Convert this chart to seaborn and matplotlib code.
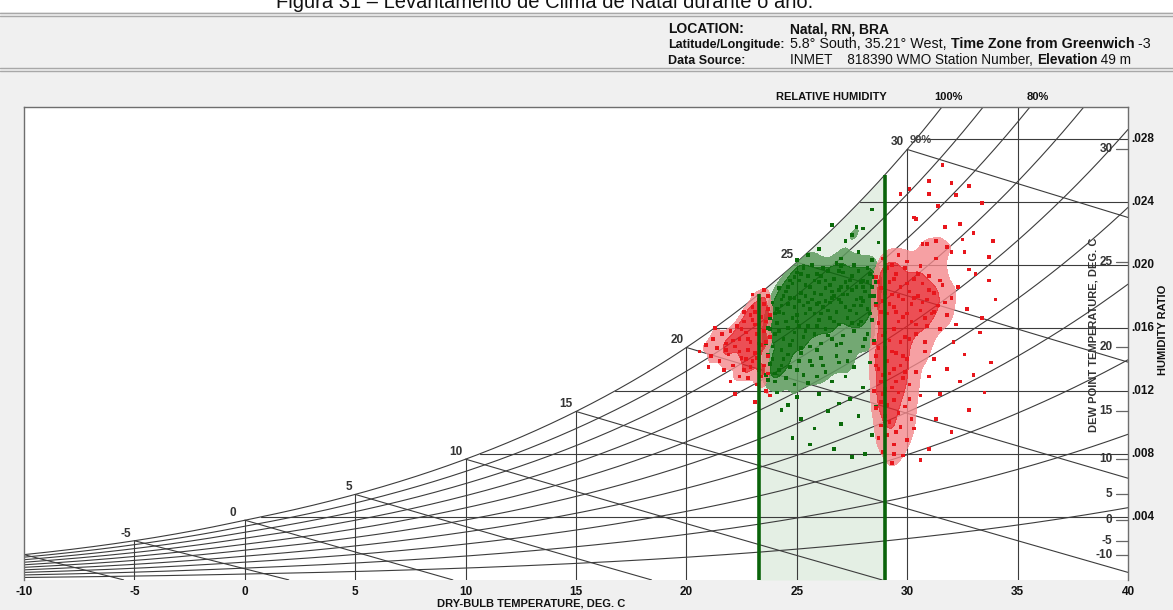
import numpy as np
import pandas as pd
import matplotlib
matplotlib.use("Agg")
import matplotlib.pyplot as plt
import matplotlib.transforms as mtransforms
from matplotlib.colors import ListedColormap
from matplotlib.lines import Line2D
from matplotlib.patches import Rectangle
import seaborn as sns

# ---------------- data ----------------
comfort_limits = [23.3, 29.0]          # dry-bulb limits of the comfort band, deg C
temp_ticks = [-10, -5, 0, 5, 10, 15, 20, 25, 30, 35, 40]
w_ticks = [0.004, 0.008, 0.012, 0.016, 0.020, 0.024, 0.028]
w_tick_labels = [".004", ".008", ".012", ".016", ".020", ".024", ".028"]
dew_ticks = [30, 25, 20, 15, 10, 5, 0, -5, -10]
rh_levels = [0.1, 0.2, 0.3, 0.4, 0.5, 0.6, 0.7, 0.8, 0.9, 1.0]
wb_levels = [-10, -5, 0, 5, 10, 15, 20, 25, 30]
sat_labels = [-5, 0, 5, 10, 15, 20, 25, 30]

# hourly records (dry-bulb deg C, humidity ratio g/kg)
green_points = [
    (24.1, 17.2), (24.3, 17.8), (24.5, 18.3), (24.6, 17.5), (24.8, 18.8), (24.9, 17.9),
    (25.1, 19.0), (25.2, 18.2), (25.3, 17.4), (25.5, 19.3), (25.6, 18.6), (25.7, 17.8),
    (25.9, 19.4), (26.0, 18.9), (26.1, 18.1), (26.2, 17.3), (26.4, 19.6), (26.5, 18.7),
    (26.6, 17.9), (26.7, 19.1), (26.9, 18.4), (27.0, 17.6), (27.1, 19.5), (27.2, 18.9),
    (27.3, 18.1), (27.5, 19.3), (27.6, 17.4), (27.7, 18.6), (27.8, 19.6), (27.9, 17.9),
    (28.0, 19.0), (28.1, 18.3), (28.2, 17.2), (28.3, 19.4), (28.4, 18.6), (24.4, 16.9),
    (25.0, 16.8), (25.4, 18.0), (25.8, 16.9), (26.3, 18.5), (26.8, 17.0), (27.4, 17.1),
    (28.0, 17.7), (28.5, 18.0), (24.7, 19.0), (25.0, 19.5), (26.2, 19.8), (27.0, 19.9),
    (27.6, 20.0), (28.2, 19.8), (25.3, 19.8), (26.8, 20.1), (25.7, 20.0), (24.2, 18.5),
    (23.9, 17.6), (23.8, 16.6), (28.6, 17.5), (28.6, 18.9), (26.0, 17.6), (27.3, 18.6),
    (23.6, 15.0), (23.7, 16.0), (23.9, 14.8), (24.0, 15.6), (24.1, 16.3), (24.3, 14.6),
    (24.4, 15.3), (24.6, 16.0), (24.7, 14.9), (24.9, 15.7), (25.0, 16.4), (25.2, 14.7),
    (25.3, 15.4), (25.5, 16.1), (25.6, 14.8), (25.8, 15.6), (26.0, 16.5), (26.1, 15.0),
    (26.3, 15.9), (26.5, 16.6), (26.6, 15.3), (26.9, 16.2), (27.1, 15.5), (27.3, 16.6),
    (27.6, 15.8), (27.9, 16.4), (28.2, 15.6), (28.4, 16.5), (24.2, 17.0), (25.4, 16.9),
    (26.4, 17.1), (27.7, 16.9), (23.8, 15.9), (24.8, 16.6), (25.9, 14.6), (26.8, 14.9),
    (27.4, 14.5), (28.0, 14.8), (28.5, 15.2), (23.7, 14.3),
    (23.6, 13.0), (23.8, 13.7), (24.0, 12.6), (24.2, 13.3), (24.4, 14.0), (24.5, 12.8),
    (24.7, 13.5), (24.9, 12.4), (25.1, 13.9), (25.3, 13.0), (25.5, 12.5), (25.7, 13.6),
    (25.9, 12.9), (26.1, 14.1), (26.3, 13.2), (26.6, 12.6), (26.9, 13.8), (27.2, 12.9),
    (27.6, 13.5), (28.0, 12.2), (28.3, 13.8), (24.1, 11.9), (25.0, 11.6), (26.0, 11.8),
    (27.4, 11.5),
    (24.3, 10.8), (25.2, 10.2), (25.8, 9.6), (26.4, 10.7), (27.0, 9.9), (27.8, 10.4),
    (28.4, 9.2), (24.8, 9.0), (26.7, 8.3), (27.5, 7.8), (25.6, 8.6), (28.1, 8.0),
    (24.6, 11.1), (26.9, 11.2), (28.6, 11.0),
    (26.0, 21.0), (27.2, 21.5), (28.0, 22.3), (25.5, 20.6), (26.6, 22.5), (27.8, 20.8),
    (28.4, 23.5), (27.0, 20.4), (25.0, 20.3), (28.7, 21.4), (27.7, 22.4), (27.5, 21.9),
    (28.4, 20.3),
    (24.4, 18.0), (24.6, 18.6), (24.9, 19.2), (25.2, 19.4), (25.5, 17.6), (25.8, 18.2),
    (26.1, 19.3), (26.3, 17.7), (26.6, 18.3), (26.9, 19.6), (27.1, 18.1), (27.4, 19.0),
    (27.7, 17.8), (28.0, 18.6), (28.3, 18.0), (28.5, 19.2), (24.0, 16.9), (24.5, 16.4),
    (25.1, 17.7), (25.6, 17.2), (26.1, 16.9), (26.7, 16.4), (27.2, 17.3), (27.8, 16.2),
    (28.3, 16.9), (24.2, 15.8), (24.8, 15.2), (25.4, 15.8), (25.9, 16.1), (26.4, 15.5),
    (27.0, 15.0), (27.5, 16.3), (28.1, 15.3), (23.9, 14.0), (24.3, 13.6), (24.6, 14.3),
    (25.0, 13.3), (25.2, 14.4), (25.6, 13.9), (23.7, 12.7), (24.0, 13.1), (26.2, 13.6),
    (26.8, 14.2), (27.3, 13.9), (24.9, 17.3), (25.9, 17.5), (26.5, 17.6), (27.0, 18.6),
    (27.9, 18.9), (26.3, 19.0), (25.4, 18.7), (24.7, 17.9), (28.2, 18.9), (27.5, 18.4),
    (26.7, 18.0), (25.8, 19.0), (24.3, 17.4), (27.9, 17.4), (25.1, 16.1), (26.9, 17.8),
]

red_points = [
    (20.6, 14.5), (20.9, 14.9), (21.1, 14.2), (21.2, 15.3), (21.4, 14.7), (21.5, 13.9),
    (21.6, 15.6), (21.8, 15.0), (21.9, 14.3), (22.0, 15.8), (22.1, 13.6), (22.2, 14.8),
    (22.3, 16.1), (22.4, 15.3), (22.5, 14.1), (22.6, 13.3), (22.6, 16.4), (22.7, 15.7),
    (22.8, 14.6), (22.8, 12.8), (22.9, 16.8), (22.9, 15.1), (23.0, 13.9), (23.0, 17.3),
    (23.1, 16.2), (23.1, 14.4), (23.2, 12.4), (23.2, 15.6), (23.3, 17.8), (23.3, 13.3),
    (23.4, 16.7), (23.4, 14.9), (23.5, 15.8), (23.5, 13.6), (23.6, 16.4), (23.6, 12.0),
    (23.7, 17.2), (23.7, 14.2), (23.8, 15.4), (23.8, 11.7), (22.4, 12.9), (22.0, 12.6),
    (21.7, 13.3), (21.3, 16.0), (22.6, 17.0), (23.0, 18.1), (23.5, 18.4), (21.0, 13.5),
    (22.2, 11.8), (23.1, 11.3),
    (22.5, 15.9), (22.7, 14.0), (22.9, 13.5), (23.0, 16.5), (23.2, 14.1), (23.3, 16.2),
    (23.4, 12.9), (23.6, 15.1), (23.7, 13.1), (22.8, 15.3), (22.4, 14.5), (23.1, 17.0),
    (23.5, 17.5), (22.1, 15.2), (21.8, 14.6), (23.8, 16.8), (23.7, 18.0), (23.3, 15.0),
    (28.6, 19.2), (28.8, 18.5), (28.9, 17.7), (29.0, 19.6), (29.1, 16.9), (29.2, 18.9),
    (29.3, 18.1), (29.4, 17.3), (29.5, 19.4), (29.6, 16.4), (29.7, 18.6), (29.8, 17.8),
    (29.9, 19.8), (30.0, 16.9), (30.1, 18.3), (30.2, 17.5), (30.3, 19.1), (30.4, 16.2),
    (30.5, 18.0), (30.6, 17.1), (30.7, 18.8), (30.8, 16.6), (30.9, 17.8), (31.0, 19.3),
    (31.1, 16.9), (31.2, 18.2), (31.4, 17.4), (31.5, 15.9), (31.6, 18.7), (31.8, 16.8),
    (32.0, 17.9), (32.2, 16.2), (28.7, 16.3), (29.0, 15.7), (29.4, 15.9), (29.9, 15.4),
    (30.4, 15.6), (28.6, 17.4), (29.3, 20.0), (30.0, 20.2), (30.6, 19.9), (29.6, 20.6),
    (31.3, 20.4), (28.9, 20.4), (30.8, 15.1),
    (28.7, 18.9), (29.0, 18.2), (29.2, 17.5), (29.4, 19.1), (29.6, 18.0), (29.8, 16.7),
    (30.0, 18.8), (30.2, 16.4), (30.5, 19.4), (30.7, 17.6), (31.0, 18.4), (31.2, 17.0),
    (31.5, 19.0), (30.3, 17.9), (29.5, 17.0), (28.8, 17.0), (29.1, 19.8), (30.9, 16.1),
    (31.7, 17.6), (30.1, 15.3),
    (28.5, 15.0), (28.6, 14.2), (28.7, 13.4), (28.8, 12.6), (28.9, 11.8), (29.0, 14.7),
    (29.1, 13.9), (29.2, 13.1), (29.3, 12.2), (29.4, 11.4), (29.5, 14.4), (29.6, 10.6),
    (29.7, 13.6), (29.8, 12.8), (29.9, 11.0), (30.0, 14.0), (30.1, 12.4), (30.2, 10.2),
    (28.6, 10.9), (28.8, 9.8), (29.1, 9.2), (29.4, 8.6), (29.7, 9.7), (30.0, 8.9),
    (28.9, 8.1), (29.3, 7.4), (30.4, 13.2), (30.6, 11.7), (30.8, 14.5), (31.0, 12.9),
    (28.5, 12.0), (29.2, 15.2), (30.3, 9.6), (29.8, 7.9),
    (28.7, 14.7), (28.9, 13.0), (29.0, 12.1), (29.1, 11.1), (29.3, 14.5), (29.4, 13.4),
    (29.5, 12.6), (29.6, 11.9), (29.7, 15.1), (29.8, 14.2), (28.6, 13.6), (28.8, 11.3),
    (29.0, 10.4), (29.2, 10.0), (29.5, 9.4), (29.9, 13.2), (28.7, 9.0), (29.4, 8.0),
    (30.1, 11.5), (28.9, 15.5),
    (31.2, 14.0), (31.5, 11.8), (31.8, 13.4), (32.1, 15.1), (32.4, 12.6), (32.6, 14.3),
    (32.8, 10.8), (33.0, 13.0), (33.3, 15.7), (33.5, 11.9), (33.8, 13.8), (32.3, 18.6),
    (32.7, 17.2), (33.1, 19.4), (33.4, 16.6), (32.0, 20.8), (32.5, 21.6), (31.7, 22.4),
    (30.9, 21.3), (30.4, 22.9), (31.4, 23.7), (32.2, 24.4), (33.0, 22.0), (30.1, 24.8),
    (31.0, 25.3), (32.8, 25.0), (34.0, 17.8), (33.7, 20.5), (31.3, 10.2), (32.0, 9.4),
    (31.0, 8.3), (30.6, 7.6),
    (31.6, 26.3), (32.0, 25.2), (29.7, 24.5), (31.0, 24.5), (30.3, 23.0), (32.4, 22.6),
    (33.4, 23.9), (30.7, 21.3), (31.3, 21.5), (32.6, 20.8), (31.8, 21.1), (33.9, 21.5),
    (33.7, 19.0), (32.8, 19.7),
]

# ---------------- psychrometrics (chart grid) ----------------
P_KPA = 101.325 * (1 - 2.25577e-5 * 49) ** 5.2559


def psat(t):
    t = np.asarray(t, dtype=float)
    return np.where(t >= 0,
                    0.61094 * np.exp(17.625 * t / (t + 243.04)),
                    0.61115 * np.exp(22.452 * t / (272.55 + t)))


def wsat(t, rh=1.0):
    pv = rh * psat(t)
    return 0.622 * pv / (P_KPA - pv)


def wetbulb_w(t, twb):
    ws = wsat(twb)
    if twb >= 0:
        return ((2501 - 2.326 * twb) * ws - 1.006 * (t - twb)) / (2501 + 1.86 * t - 4.186 * twb)
    return ((2830 - 0.24 * twb) * ws - 1.006 * (t - twb)) / (2830 + 1.86 * t - 2.1 * twb)


# ---------------- figure ----------------
sns.set_theme(style="white")
plt.rcParams['font.family'] = ['Liberation Sans', 'DejaVu Sans']

FW, FH = 1173, 610
fig = plt.figure(figsize=(FW / 100, FH / 100), dpi=100, facecolor='#f0f0f0')


def fx(px):
    return px / FW


def fy(py):
    return 1 - py / FH


fig.patches.append(Rectangle((0, fy(12)), 1, 12 / FH, transform=fig.transFigure,
                             facecolor='white', edgecolor='none', zorder=0))
for yy in (12.5, 15.5, 67.5, 70.5):
    fig.add_artist(Line2D([0, 1], [fy(yy)] * 2, transform=fig.transFigure,
                          color='#a8a8a8', lw=1))
fig.text(fx(545), fy(8.5), "Figura 31 – Levantamento de Clima de Natal durante o ano.",
         ha='center', va='baseline', fontsize=14.5, color='#111')

renderer = fig.canvas.get_renderer()
hdr_font = ['Liberation Sans', 'DejaVu Sans']


def seg_line(x0, y, segments, size):
    x = x0
    for txt, bold in segments:
        t = fig.text(fx(x), fy(y), txt, ha='left', va='baseline', fontsize=size,
                     fontweight='bold' if bold else 'normal', family=hdr_font, color='#111')
        x += t.get_window_extent(renderer).width


seg_line(668, 33, [("LOCATION:", True)], 10)
seg_line(790, 33, [("Natal, RN, BRA", True)], 10)
seg_line(668, 48, [("Latitude/Longitude:", True)], 9)
seg_line(790, 48, [("5.8° South, 35.21° West, ", False), ("Time Zone from Greenwich", True),
                   (" -3", False)], 10.3)
seg_line(668, 64, [("Data Source:", True)], 9)
seg_line(790, 64, [("INMET    818390 WMO Station Number, ", False), ("Elevation", True),
                   (" 49 m", False)], 9.8)

ax = fig.add_axes([fx(24), 30 / FH, 1104 / FW, 473 / FH])
ax.set_facecolor('white')
ax.set_xlim(-10, 40)
ax.set_ylim(0, 0.030)

GRID = '#3c3c3c'
LW = 0.8

# comfort band shading
tb = np.linspace(comfort_limits[0], comfort_limits[1], 200)
band = ax.fill_between(tb, 0, wsat(tb), color='#e4efe4', lw=0, zorder=1)

# relative humidity curves
tt = np.linspace(-10, 40, 1001)
rh_df = pd.concat([pd.DataFrame({'T': tt, 'W': wsat(tt, r), 'rh': r}) for r in rh_levels])
rh_df = rh_df[rh_df['W'] <= 0.0305]
sns.lineplot(data=rh_df, x='T', y='W', units='rh', estimator=None, sort=False,
             color=GRID, lw=LW, ax=ax, zorder=2, legend=False)

# wet-bulb lines
wb_frames = []
for twb in wb_levels:
    t = np.linspace(twb, 40, 400)
    w = np.array([wetbulb_w(ti, twb) for ti in t])
    keep = w >= 0
    wb_frames.append(pd.DataFrame({'T': t[keep], 'W': w[keep], 'wb': twb}))
wb_df = pd.concat(wb_frames)
sns.lineplot(data=wb_df, x='T', y='W', units='wb', estimator=None, sort=False,
             color=GRID, lw=LW, ax=ax, zorder=2, legend=False)

# dry-bulb verticals
for t in temp_ticks[1:-1]:
    ax.plot([t, t], [0, min(float(wsat(t)), 0.030)], color=GRID, lw=LW, zorder=2)

# humidity ratio horizontals
tfine = np.linspace(-10, 40, 5001)
wfine = wsat(tfine)
for w in w_ticks:
    t0 = float(np.interp(w, wfine, tfine))
    ax.plot([t0, 40], [w, w], color=GRID, lw=LW, zorder=2)

# scatter
GREEN = '#0b6b0b'
RED = '#e8161c'
gdf = pd.DataFrame(green_points, columns=['T', 'Wg'])
gdf['W'] = gdf['Wg'] / 1000
rdf = pd.DataFrame(red_points, columns=['T', 'Wg'])
rdf['W'] = rdf['Wg'] / 1000

# graded density underlay of the dense cores
n0 = len(ax.collections)
sns.kdeplot(data=gdf, x='T', y='W', fill=True, levels=[0.2, 0.45, 1.0], bw_adjust=0.55,
            cmap=ListedColormap(['#5f9c5f', '#0d6d0d']), alpha=0.85, ax=ax, zorder=3)
clip_patch = band.get_paths()[0]
for coll in ax.collections[n0:]:
    coll.set_clip_path(clip_patch, ax.transData)

red_left = rdf[rdf['T'] < 26]
red_right = rdf[rdf['T'] >= 26]
for sub, lv in ((red_left, [0.25, 0.55, 1.0]), (red_right, [0.35, 0.6, 1.0])):
    sns.kdeplot(data=sub, x='T', y='W', fill=True, levels=lv, bw_adjust=0.55,
                cmap=ListedColormap(['#f4898c', '#e8232a']), alpha=0.8, ax=ax, zorder=3)

sns.scatterplot(data=gdf, x='T', y='W', marker='s', s=7, color=GREEN,
                edgecolor='none', linewidth=0, ax=ax, zorder=4)
sns.scatterplot(data=rdf, x='T', y='W', marker='s', s=7, color=RED,
                edgecolor='none', linewidth=0, ax=ax, zorder=4)

# comfort band limits
for t in comfort_limits:
    ax.plot([t, t], [0, float(wsat(t))], color='#0a630a', lw=2.6, zorder=5,
            solid_capstyle='butt')

# saturation labels
for t in sat_labels:
    dx = -9 if t == 0 else -3
    ax.annotate(str(t), (t, float(wsat(t))), xytext=(dx, 1), textcoords='offset pixels',
                ha='right', va='bottom', fontsize=8.5, fontweight='bold', color='#333333',
                zorder=6)

# dew point scale (inside right edge)
for td in dew_ticks:
    w = float(wsat(td))
    ax.plot([39.45, 40], [w, w], color='#666666', lw=0.9, zorder=3, clip_on=False)
    ax.text(39.3, w, str(td), ha='right', va='center', fontsize=8.5, fontweight='bold',
            color='#333333', zorder=6)

# humidity ratio labels on the right
trans = mtransforms.blended_transform_factory(ax.transAxes, ax.transData)
for w, lab in zip(w_ticks, w_tick_labels):
    ax.text(1.003, w, lab, transform=trans, ha='left', va='center', fontsize=8.5,
            fontweight='bold', color='#111')

# axis ticks
ax.set_xticks(temp_ticks)
ax.set_xticklabels([str(t) for t in temp_ticks], fontsize=8.5, fontweight='bold', color='#111')
ax.tick_params(axis='x', length=0, pad=4)
ax.set_yticks([])
ax.set_xlabel('')
ax.set_ylabel('')

for side in ('left', 'top', 'right'):
    ax.spines[side].set_visible(True)
    ax.spines[side].set_color('#6e6e6e')
    ax.spines[side].set_linewidth(1.0)
ax.spines['bottom'].set_visible(False)

# texts around the chart
fig.text(fx(531), fy(604), "DRY-BULB TEMPERATURE, DEG. C", ha='center', va='center',
         fontsize=8, fontweight='bold', color='#111')
fig.text(fx(831), fy(97), "RELATIVE HUMIDITY", ha='center', va='center',
         fontsize=8, fontweight='bold', color='#111')
fig.text(fx(948), fy(97), "100%", ha='center', va='center', fontsize=8,
         fontweight='bold', color='#111')
fig.text(fx(1038), fy(97), "80%", ha='center', va='center', fontsize=8,
         fontweight='bold', color='#111')
fig.text(fx(921), fy(140), "90%", ha='center', va='center', fontsize=8,
         fontweight='bold', color='#444')
fig.text(fx(1093), fy(335), "DEW POINT TEMPERATURE, DEG. C", ha='center', va='center',
         rotation=90, fontsize=8, fontweight='bold', color='#333')
fig.text(fx(1163), fy(330), "HUMIDITY RATIO", ha='center', va='center',
         rotation=90, fontsize=8, fontweight='bold', color='#111')

fig.savefig('out.png', dpi=100, facecolor=fig.get_facecolor())
